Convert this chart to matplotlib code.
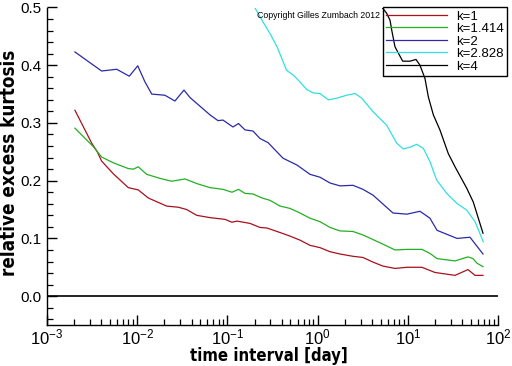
import matplotlib
matplotlib.use("Agg")
import matplotlib.pyplot as plt
from matplotlib.ticker import LogLocator, MultipleLocator, FormatStrFormatter

# ---- data ----
x_k1 = [0.00204, 0.00313, 0.00361, 0.00403, 0.00543, 0.00796, 0.01028, 0.01327, 0.0212, 0.0286,
        0.0354, 0.0457, 0.0641, 0.094, 0.1125, 0.1276, 0.178, 0.230, 0.275, 0.403,
        0.494, 0.638, 0.824, 1.064, 1.372, 1.771, 2.466, 3.18, 4.11, 5.31,
        7.21, 9.79, 14.35, 20.0, 33.4, 46.5, 55.6, 68.2]
y_k1 = [0.322, 0.265, 0.250, 0.234, 0.212, 0.188, 0.184, 0.170, 0.156, 0.154,
        0.150, 0.140, 0.136, 0.133, 0.128, 0.130, 0.126, 0.119, 0.118, 0.109,
        0.104, 0.097, 0.088, 0.084, 0.077, 0.073, 0.069, 0.067, 0.059, 0.052,
        0.048, 0.050, 0.050, 0.041, 0.036, 0.046, 0.036, 0.036]

x_k1414 = [0.00204, 0.00326, 0.00403, 0.00543, 0.00796, 0.00906, 0.01028, 0.01274, 0.0179, 0.0241,
           0.0339, 0.0457, 0.0641, 0.0893, 0.1125, 0.1327, 0.1567, 0.192, 0.242, 0.296,
           0.383, 0.494, 0.638, 0.824, 1.064, 1.372, 1.771, 2.466, 3.18, 4.11,
           5.31, 7.21, 9.79, 14.35, 17.6, 21.1, 33.4, 46.5, 52.8, 58.5, 68.2]
y_k1414 = [0.291, 0.259, 0.241, 0.231, 0.221, 0.220, 0.224, 0.211, 0.204, 0.199,
           0.203, 0.195, 0.188, 0.185, 0.180, 0.185, 0.178, 0.177, 0.170, 0.166,
           0.156, 0.152, 0.144, 0.135, 0.129, 0.119, 0.113, 0.112, 0.106, 0.098,
           0.090, 0.080, 0.081, 0.081, 0.074, 0.065, 0.061, 0.068, 0.065, 0.057, 0.051]

x_k2 = [0.00204, 0.00403, 0.00593, 0.00817, 0.01014, 0.0122, 0.0145, 0.0203, 0.0262, 0.0330,
        0.0385, 0.0641, 0.0787, 0.0893, 0.1153, 0.1327, 0.1567, 0.192, 0.230, 0.282,
        0.413, 0.592, 0.824, 1.064, 1.372, 1.771, 2.466, 3.18, 4.11, 6.85,
        9.79, 13.65, 17.6, 21.1, 35.1, 48.9, 68.2]
y_k2 = [0.423, 0.390, 0.393, 0.381, 0.399, 0.371, 0.350, 0.348, 0.338, 0.357,
        0.344, 0.314, 0.304, 0.305, 0.293, 0.299, 0.288, 0.286, 0.273, 0.266,
        0.239, 0.227, 0.211, 0.206, 0.196, 0.191, 0.192, 0.185, 0.175, 0.144,
        0.142, 0.147, 0.135, 0.114, 0.100, 0.102, 0.073]

x_k2828 = [0.185, 0.248, 0.296, 0.355, 0.454, 0.538, 0.638, 0.757, 0.896, 1.064,
           1.315, 1.629, 2.10, 2.60, 3.08, 4.14, 5.83, 7.53, 8.91, 10.57,
           12.56, 14.86, 17.6, 20.9, 27.0, 34.8, 45.0, 55.6, 62.1, 68.7]
y_k2828 = [0.510, 0.475, 0.455, 0.432, 0.391, 0.383, 0.371, 0.358, 0.352, 0.351,
           0.340, 0.343, 0.348, 0.351, 0.343, 0.319, 0.296, 0.265, 0.255, 0.258,
           0.263, 0.256, 0.233, 0.201, 0.178, 0.161, 0.149, 0.129, 0.111, 0.094]

x_k4 = [4.9, 5.83, 6.35, 6.63, 7.21, 7.85, 8.79, 10.57, 12.33, 13.65,
        15.5, 16.9, 19.2, 22.7, 28.1, 33.4, 45.0, 53.2, 60.5, 68.2]
y_k4 = [0.505, 0.490, 0.478, 0.461, 0.432, 0.421, 0.407, 0.407, 0.410, 0.400,
        0.377, 0.345, 0.314, 0.288, 0.247, 0.224, 0.187, 0.163, 0.135, 0.109]

labels = ["k=1", "k=1.414", "k=2", "k=2.828", "k=4"]
colors = ["#a8101c", "#22b022", "#2a2aaa", "#30e0e0", "#000000"]

FONT = "Liberation Sans"

fig = plt.figure(figsize=(5.12, 3.66), dpi=100)
ax = fig.add_axes([47/512, 1 - 325/366, (498 - 47)/512, (325 - 7.5)/366])

series = [(x_k1, y_k1), (x_k1414, y_k1414), (x_k2, y_k2), (x_k2828, y_k2828), (x_k4, y_k4)]
for (xs, ys), lab, c in zip(series, labels, colors):
    ax.plot(xs, ys, color=c, lw=0.9, label=lab)

ax.axhline(0.0, color="black", lw=1.2)

ax.set_xscale("log")
ax.set_xlim(1e-3, 1e2)
ax.set_ylim(-0.05, 0.5)

ax.spines["top"].set_visible(False)
ax.spines["right"].set_visible(False)
for s in ("left", "bottom"):
    ax.spines[s].set_linewidth(1.0)

ax.xaxis.set_major_locator(LogLocator(base=10, numticks=10))
ax.xaxis.set_minor_locator(LogLocator(base=10, subs=range(2, 10), numticks=20))
ax.yaxis.set_major_locator(MultipleLocator(0.1))
ax.yaxis.set_minor_locator(MultipleLocator(0.02))
ax.yaxis.set_major_formatter(FormatStrFormatter("%.1f"))

ax.tick_params(which="both", direction="in", colors="black")
ax.tick_params(which="major", length=7, width=1.0, labelsize=11, pad=4)
ax.tick_params(axis="x", which="major", labelsize=12, pad=2)
ax.tick_params(which="minor", length=4, width=0.9)
for lbl in ax.get_xticklabels() + ax.get_yticklabels():
    lbl.set_fontfamily(FONT)

ax.set_xlabel("time interval [day]", fontsize=12, fontweight="bold", family="DejaVu Sans",
              fontstretch="condensed")
ax.set_ylabel("relative excess kurtosis", fontsize=13.5, fontweight="bold", family="DejaVu Sans",
              fontstretch="condensed")
ax.xaxis.set_label_coords(0.493, -0.099)
ax.xaxis.label.set_va("center")
ax.yaxis.set_label_coords(-0.083, 0.51)
ax.yaxis.label.set_va("center")

leg = ax.legend(loc="upper left", bbox_to_anchor=(383/512, 1 - 7/366), bbox_transform=fig.transFigure,
                frameon=True, fancybox=False, framealpha=1, facecolor="none", edgecolor="black",
                prop={"family": FONT, "size": 9.5}, handlelength=4.6, handletextpad=0.7,
                labelspacing=0.02, borderpad=0.25, borderaxespad=0)
leg.get_frame().set_linewidth(1.0)

fig.text(257/512, 1 - 15.5/366, "Copyright Gilles Zumbach 2012", fontsize=6.3, family=FONT,
         va="center", ha="left")

fig.savefig("out.png", dpi=100)
